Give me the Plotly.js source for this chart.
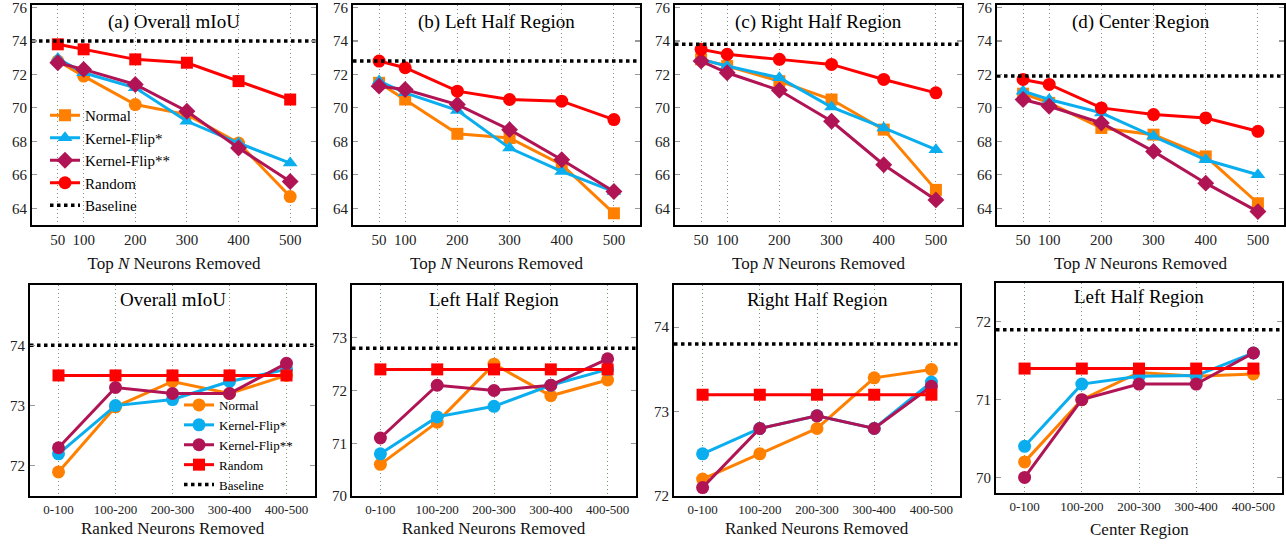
<!DOCTYPE html>
<html>
<head>
<meta charset="utf-8">
<script src="https://cdn.plot.ly/plotly-3.0.1.min.js"></script>
<style>
  html, body { margin: 0; padding: 0; background: #fff; }
  #chart { width: 1286px; height: 544px; }
</style>
</head>
<body>
<div id="chart"></div>
<script>
// ---------------- DATA ----------------
const seriesNames = ['Normal', 'Kernel-Flip*', 'Kernel-Flip**', 'Random', 'Baseline'];

// Top row: x = Top N neurons removed
const topN = [50, 100, 200, 300, 400, 500];
const topTitles = ['(a) Overall mIoU', '(b) Left Half Region', '(c) Right Half Region', '(d) Center Region'];

const aNormal = [72.8, 71.9, 70.2, 69.6, 67.9, 64.7];
const aFlip1  = [72.95, 72.1, 71.2, 69.2, 67.9, 66.7];
const aFlip2  = [72.7, 72.3, 71.4, 69.8, 67.6, 65.6];
const aRandom = [73.8, 73.5, 72.9, 72.7, 71.6, 70.5];
const aBase = 74.0;

const bNormal = [71.5, 70.5, 68.45, 68.2, 66.6, 63.7];
const bFlip1  = [71.6, 70.9, 69.85, 67.6, 66.2, 65.0];
const bFlip2  = [71.3, 71.1, 70.2, 68.7, 66.9, 65.0];
const bRandom = [72.8, 72.4, 71.0, 70.5, 70.4, 69.3];
const bBase = 72.8;

const cNormal = [72.9, 72.5, 71.6, 70.5, 68.7, 65.1];
const cFlip1  = [72.9, 72.5, 71.8, 70.05, 68.8, 67.5];
const cFlip2  = [72.8, 72.1, 71.05, 69.2, 66.6, 64.5];
const cRandom = [73.5, 73.2, 72.9, 72.6, 71.7, 70.9];
const cBase = 73.8;

const dNormal = [70.85, 70.3, 68.8, 68.4, 67.1, 64.3];
const dFlip1  = [71.0, 70.5, 69.7, 68.3, 66.9, 66.0];
const dFlip2  = [70.5, 70.1, 69.1, 67.4, 65.5, 63.8];
const dRandom = [71.7, 71.4, 70.0, 69.6, 69.4, 68.6];
const dBase = 71.9;

// Bottom row: x = ranked neuron groups removed
const rankedGroups = ['0-100', '100-200', '200-300', '300-400', '400-500'];
const bottomTitles = ['Overall mIoU', 'Left Half Region', 'Right Half Region', 'Left Half Region'];
const bottomXTitles = ['Ranked Neurons Removed', 'Ranked Neurons Removed', 'Ranked Neurons Removed', 'Center Region'];

const eNormal = [71.9, 72.98, 73.4, 73.2, 73.5];
const eFlip1  = [72.2, 73.0, 73.1, 73.4, 73.6];
const eFlip2  = [72.3, 73.3, 73.2, 73.2, 73.7];
const eRandom = [73.5, 73.5, 73.5, 73.5, 73.5];
const eBase = 74.0;

const fNormal = [70.6, 71.4, 72.5, 71.9, 72.2];
const fFlip1  = [70.8, 71.5, 71.7, 72.1, 72.4];
const fFlip2  = [71.1, 72.1, 72.0, 72.1, 72.6];
const fRandom = [72.4, 72.4, 72.4, 72.4, 72.4];
const fBase = 72.8;

const gNormal = [72.2, 72.5, 72.8, 73.4, 73.5];
const gFlip1  = [72.5, 72.8, 72.95, 72.8, 73.35];
const gFlip2  = [72.1, 72.8, 72.95, 72.8, 73.3];
const gRandom = [73.2, 73.2, 73.2, 73.2, 73.2];
const gBase = 73.8;

const hNormal = [70.2, 71.0, 71.35, 71.3, 71.33];
const hFlip1  = [70.4, 71.2, 71.3, 71.31, 71.6];
const hFlip2  = [70.0, 71.0, 71.2, 71.2, 71.6];
const hRandom = [71.4, 71.4, 71.4, 71.4, 71.4];
const hBase = 71.9;

// ---------------- STYLE / LAYOUT ----------------
const W = 1286, H = 544;
const FONT = '"Liberation Serif", "Times New Roman", serif';
const colors = ['#FF8000', '#0AAEEF', '#B01455', '#FF0000', '#000000'];

const topPanels = [
  { s: [aNormal, aFlip1, aFlip2, aRandom], base: aBase, px: [32, 316], sym: ['circle', 'triangle-up', 'diamond', 'square'] },
  { s: [bNormal, bFlip1, bFlip2, bRandom], base: bBase, px: [353, 640], sym: ['square', 'triangle-up', 'diamond', 'circle'], legend: 'legend' },
  { s: [cNormal, cFlip1, cFlip2, cRandom], base: cBase, px: [675, 962], sym: ['square', 'triangle-up', 'diamond', 'circle'] },
  { s: [dNormal, dFlip1, dFlip2, dRandom], base: dBase, px: [997, 1284], sym: ['square', 'triangle-up', 'diamond', 'circle'] }
];
const topY = [5, 225];
const topRange = [63, 76.15];
const topXRange = [0, 550];
const symSize = { circle: 13, square: 12, 'triangle-up': 13, diamond: 13 };

const bottomPanels = [
  { s: [eNormal, eFlip1, eFlip2, eRandom], base: eBase, px: [30, 315], py: [285, 496], yr: [71.5, 75.0], tv: [72, 73, 74], titleY: 528, legend: 'legend2' },
  { s: [fNormal, fFlip1, fFlip2, fRandom], base: fBase, px: [352, 636], py: [285, 496], yr: [70, 74.0], tv: [70, 71, 72, 73], titleY: 528 },
  { s: [gNormal, gFlip1, gFlip2, gRandom], base: gBase, px: [674, 960], py: [285, 496], yr: [72, 74.5], tv: [72, 73, 74], titleY: 528 },
  { s: [hNormal, hFlip1, hFlip2, hRandom], base: hBase, px: [996, 1282], py: [283, 493], yr: [69.8, 72.5], tv: [70, 71, 72], titleY: 529 }
];
const botXRange = [-0.5, 4.5];
const botSym = ['circle', 'circle', 'circle', 'square'];

const traces = [];
const layout = {
  width: W, height: H, autosize: false,
  margin: { l: 0, r: 0, t: 0, b: 0 },
  paper_bgcolor: '#fff', plot_bgcolor: '#fff',
  font: { family: FONT, color: '#000' },
  annotations: [],
  legend: {
    x: 45 / W, y: 1 - 99 / H, xanchor: 'left', yanchor: 'top',
    bgcolor: 'rgba(0,0,0,0)', borderwidth: 0, font: { family: FONT, size: 15, color: '#000' },
    tracegroupgap: 0, itemwidth: 30
  },
  legend2: {
    x: 179 / W, y: 1 - 390 / H, xanchor: 'left', yanchor: 'top',
    bgcolor: 'rgba(0,0,0,0)', borderwidth: 0, font: { family: FONT, size: 13, color: '#000' },
    tracegroupgap: 0, itemwidth: 30
  }
};

function xDom(px) { return [px[0] / W, px[1] / W]; }
function yDom(py) { return [1 - py[1] / H, 1 - py[0] / H]; }

function baseAxis() {
  return {
    showline: true, linecolor: '#000', linewidth: 2, mirror: 'allticks',
    ticks: 'inside', ticklen: 5, tickwidth: 1.2, tickcolor: '#999',
    zeroline: false, fixedrange: true, ticklabeloverflow: 'allow',
    tickfont: { family: FONT, size: 15, color: '#222' }
  };
}

topPanels.forEach((p, i) => {
  const n = i + 1;
  const xa = 'x' + (n === 1 ? '' : n), ya = 'y' + (n === 1 ? '' : n);
  const xKey = 'xaxis' + (n === 1 ? '' : n), yKey = 'yaxis' + (n === 1 ? '' : n);
  layout[xKey] = Object.assign(baseAxis(), {
    domain: xDom(p.px), anchor: ya, range: topXRange,
    tickvals: topN, ticktext: topN.map(String),
    showgrid: true, gridcolor: '#888', griddash: '1px,3px', gridwidth: 1,
    ticks: '',
    title: { text: 'Top <i>N</i> Neurons Removed', font: { family: FONT, size: 17, color: '#111' }, standoff: 10 }
  });
  layout[yKey] = Object.assign(baseAxis(), {
    domain: yDom(topY), anchor: xa, range: topRange,
    tickmode: 'linear', tick0: 64, dtick: 2, showgrid: false
  });
  p.s.forEach((vals, k) => {
    traces.push({
      type: 'scatter', mode: 'lines+markers', x: topN, y: vals, xaxis: xa, yaxis: ya,
      name: seriesNames[k], showlegend: !!p.legend, legend: p.legend || 'legend',
      line: { color: colors[k], width: 3 },
      marker: { symbol: p.sym[k], color: colors[k], size: symSize[p.sym[k]], line: { width: 0 } },
      cliponaxis: false, hoverinfo: 'skip'
    });
  });
  traces.push({
    type: 'scatter', mode: 'lines', x: topXRange, y: [p.base, p.base], xaxis: xa, yaxis: ya,
    name: seriesNames[4], showlegend: !!p.legend, legend: p.legend || 'legend',
    line: { color: '#000', width: 3.5, dash: 'dot' }, hoverinfo: 'skip'
  });
  layout.annotations.push({
    xref: xa + ' domain', yref: ya + ' domain', x: 0.5, y: 0.923, xanchor: 'center', yanchor: 'middle',
    text: topTitles[i], showarrow: false, font: { family: FONT, size: 19, color: '#000' }
  });
});

bottomPanels.forEach((p, i) => {
  const n = i + 5;
  const xa = 'x' + n, ya = 'y' + n;
  const idx = rankedGroups.map((_, j) => j);
  layout['xaxis' + n] = Object.assign(baseAxis(), {
    domain: xDom(p.px), anchor: ya, range: botXRange,
    tickvals: idx, ticktext: rankedGroups,
    tickfont: { family: FONT, size: 13, color: '#222' },
    showgrid: true, gridcolor: '#6f9a6f', griddash: '1px,3px', gridwidth: 1,
    ticks: ''
  });
  layout['yaxis' + n] = Object.assign(baseAxis(), {
    domain: yDom(p.py), anchor: xa, range: p.yr,
    tickmode: 'array', tickvals: p.tv, ticktext: p.tv.map(String), showgrid: false
  });
  p.s.forEach((vals, k) => {
    traces.push({
      type: 'scatter', mode: 'lines+markers', x: idx, y: vals, xaxis: xa, yaxis: ya,
      name: seriesNames[k], showlegend: !!p.legend, legend: p.legend || 'legend2',
      line: { color: colors[k], width: 3 },
      marker: { symbol: botSym[k], color: colors[k], size: botSym[k] === 'square' ? 12 : 13, line: { width: 0 } },
      cliponaxis: false, hoverinfo: 'skip'
    });
  });
  traces.push({
    type: 'scatter', mode: 'lines', x: botXRange, y: [p.base, p.base], xaxis: xa, yaxis: ya,
    name: seriesNames[4], showlegend: !!p.legend, legend: p.legend || 'legend2',
    line: { color: '#000', width: 3.5, dash: 'dot' }, hoverinfo: 'skip'
  });
  layout.annotations.push({
    xref: xa + ' domain', yref: ya + ' domain', x: 0.5, y: i === 3 ? 0.936 : 0.93, xanchor: 'center', yanchor: 'middle',
    text: bottomTitles[i], showarrow: false, font: { family: FONT, size: 19, color: '#000' }
  });
  // x-axis title of the bottom panels
  layout.annotations.push({
    xref: xa + ' domain', yref: 'paper', x: 0.5, y: 1 - p.titleY / H, xanchor: 'center', yanchor: 'middle',
    text: bottomXTitles[i], showarrow: false, font: { family: FONT, size: 17, color: '#111' }
  });
});

Plotly.newPlot('chart', traces, layout, { displayModeBar: false, staticPlot: true });
</script>
</body>
</html>
